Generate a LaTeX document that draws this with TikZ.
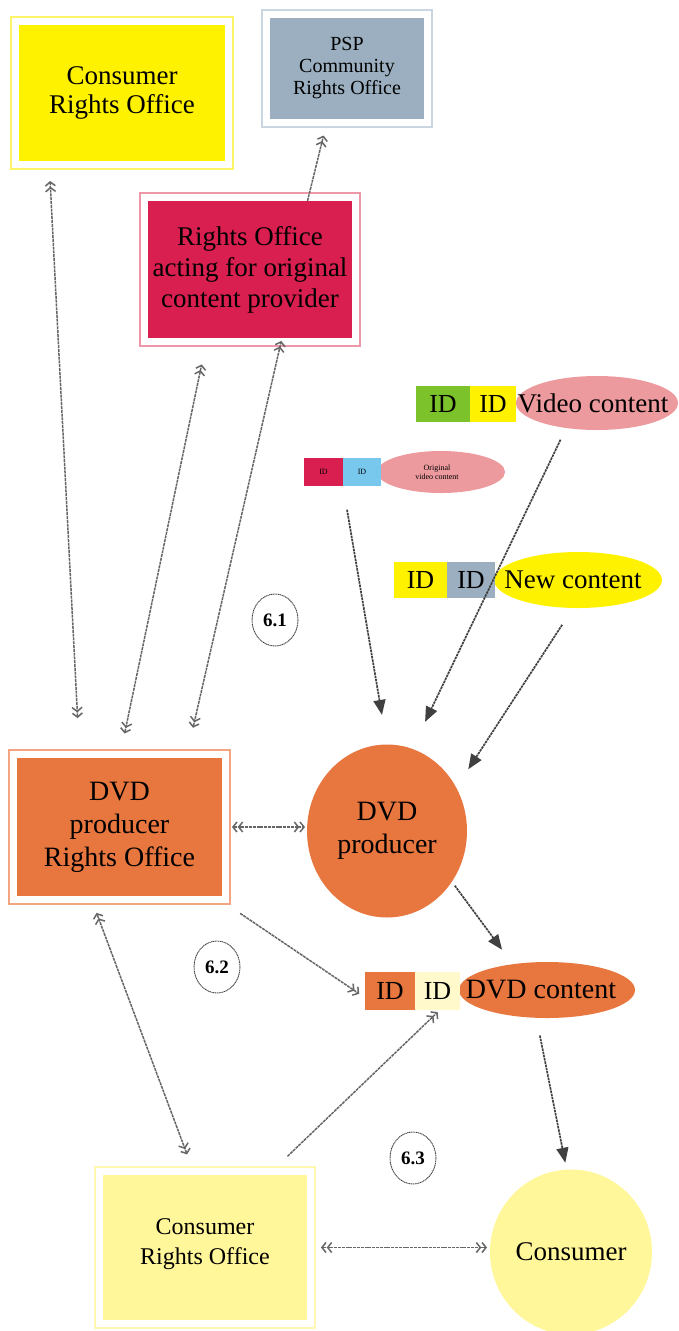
\documentclass[tikz,border=0pt]{standalone}
\usepackage{fontspec}
\setmainfont{Liberation Serif}
\usetikzlibrary{arrows.meta,shapes.geometric}

\definecolor{cyel}{HTML}{FFF200}
\definecolor{cyeledge}{HTML}{FFF466}
\definecolor{cpsp}{HTML}{9BAFC0}
\definecolor{cpspedge}{HTML}{C9D6E2}
\definecolor{ccrim}{HTML}{D91F4F}
\definecolor{ccrimedge}{HTML}{EE97A8}
\definecolor{corg}{HTML}{E8773F}
\definecolor{corgedge}{HTML}{F3A582}
\definecolor{cpale}{HTML}{FFF799}
\definecolor{cpaleedge}{HTML}{FFF8B0}
\definecolor{cgreen}{HTML}{7CC22A}
\definecolor{cpink}{HTML}{EC9A9E}
\definecolor{cblue}{HTML}{78C8EE}
\definecolor{ccream}{HTML}{FFF9CC}

\begin{document}
\begin{tikzpicture}[x=1pt, y=-1pt,
  robox/.style 2 args={rectangle, fill=#1, preaction={draw=#2, line width=18pt},
    preaction={draw=white, line width=14pt}, align=center, inner sep=0pt, outer sep=0pt},
  blob/.style={ellipse, fill=#1, inner sep=0pt, outer sep=0pt, align=center},
  idbox/.style={rectangle, fill=#1, minimum height=36, inner sep=0pt, outer sep=0pt,
    font=\fontsize{26}{30}\selectfont},
  stepmark/.style={ellipse, draw=black!75, line width=0.9pt, dash pattern=on 1.2pt off 0.6pt,
    minimum width=46, minimum height=52, inner sep=0pt, font=\bfseries\fontsize{19}{20}\selectfont},
  link/.style={draw=black!60, line width=1.5pt, dash pattern=on 3pt off 0.8pt},
  twoway/.style={link, {Straight Barb[length=4pt,width=10pt] Straight Barb[length=4pt,width=10pt]}-{Straight Barb[length=4pt,width=10pt] Straight Barb[length=4pt,width=10pt]}},
  oneway/.style={link, -{Straight Barb[length=4pt,width=10pt] Straight Barb[length=4pt,width=10pt]}},
  feed/.style={draw=black!75, line width=1.7pt, dash pattern=on 2.5pt off 0.8pt,
    -{Triangle[length=15pt,width=12pt]}}]
  %--- font sizes
  \def\fa{\fontsize{27}{29}\selectfont}
  \def\fb{\fontsize{27}{31}\selectfont}
  \def\fc{\fontsize{28}{33}\selectfont}
  \def\fd{\fontsize{24}{30}\selectfont}
  \def\fe{\fontsize{27}{30}\selectfont}
  \def\fpsp{\fontsize{20}{22}\selectfont}
  \def\fs{\fontsize{8}{9}\selectfont}

  \useasboundingbox (0,0) rectangle (678,1331);

  %--- rights offices
  \node[robox={cyel}{cyeledge}, minimum width=206, minimum height=136, font=\fa] (croTop) at (122,93) {Consumer\\Rights Office};
  \node[robox={cpsp}{cpspedge}, minimum width=154, minimum height=101, font=\fpsp] (psp) at (347,68.5) {PSP\\Community\\Rights Office};
  \node[robox={ccrim}{ccrimedge}, minimum width=204, minimum height=137, font=\fb] (roAct) at (250,269.5) {Rights Office\\acting for original\\content provider};
  \node[robox={corg}{corgedge}, minimum width=205, minimum height=138, font=\fc] (dvdRO) at (119.5,827) {DVD\\producer\\Rights Office};
  \node[robox={cpale}{cpaleedge}, minimum width=204, minimum height=145, font=\fd] (croBot) at (205,1247.5) {Consumer\\Rights Office\\[-18pt]};

  %--- actors
  \node[blob=corg, minimum width=160, minimum height=173, font=\fc] (dvdProd) at (387,831) {DVD\\producer};
  \node[blob=cpale, minimum width=162, minimum height=165, font=\fe] (consumer) at (571,1252) {Consumer};

  %--- content items: ellipse first, then the ID tags
  \node[blob=cpink, minimum width=162, minimum height=54, label={[font=\fe, xshift=-4pt]center:Video content}] (videoC) at (597,403) {};
  \node[idbox=cgreen, minimum width=54] (idVa) at (443,404) {ID};
  \node[idbox=cyel, minimum width=46] (idVb) at (493,404) {ID};

  \node[blob=cpink, minimum width=128, minimum height=42, label={[font=\fs, align=center, xshift=-4pt]center:Original\\video content}] (origC) at (441,472) {};
  \node[idbox=ccrim, minimum width=39, minimum height=28, font=\fs] (idOa) at (323.5,472) {ID};
  \node[idbox=cblue, minimum width=38, minimum height=28, font=\fs] (idOb) at (362,472) {ID};

  \node[blob=cyel, minimum width=168, minimum height=56, label={[font=\fe, xshift=-5pt]center:New content}] (newC) at (578,580) {};
  \node[idbox=cyel, minimum width=53] (idNa) at (420.5,580) {ID};
  \node[idbox=cpsp, minimum width=48] (idNb) at (471,580) {ID};

  \node[blob=corg, minimum width=176, minimum height=56, label={[font=\fc, xshift=-6pt]center:DVD content}] (dvdC) at (547,990) {};
  \node[idbox=corg, minimum width=50, minimum height=38] (idDa) at (390,991) {ID};
  \node[idbox=ccream, minimum width=45, minimum height=38] (idDb) at (437.5,991) {ID};

  %--- steps
  \node[stepmark] (s1) at (275,620) {6.1};
  \node[stepmark] (s2) at (217,967) {6.2};
  \node[stepmark] (s3) at (413,1158) {6.3};

  %--- rights links
  \draw[twoway, shorten <=40, shorten >=20] (dvdRO.120) -- (croTop.223);
  \draw[twoway, shorten <=25, shorten >=27] (dvdRO.90) -- (roAct.238);
  \draw[twoway, shorten <=31, shorten >=3] (dvdRO.46) -- (roAct.295);
  \draw[oneway, shorten >=17] (roAct.50) -- (psp.249);
  \draw[twoway, shorten <=10, shorten >=2] (dvdRO.east) -- (dvdRO.east -| dvdProd.west);
  \draw[oneway, shorten <=31, shorten >=7] (dvdRO.324) -- (idDa.195);
  \draw[twoway, shorten <=22, shorten >=18] (croBot.98) -- (dvdRO.247);
  \draw[oneway, shorten <=27, shorten >=3] (croBot.49) -- (idDb.277);
  \draw[twoway, shorten <=14, shorten >=3] (croBot.east) -- (croBot.east -| consumer.west);

  %--- content flow
  \draw[feed, shorten <=24, shorten >=30] (idOa.south east) -- (dvdProd.north);
  \draw[feed, shorten <=13, shorten >=30] (videoC.219) -- (dvdProd.73);
  \draw[feed, shorten <=20, shorten >=22] (newC.260) -- (dvdProd.32);
  \draw[feed, shorten <=5, shorten >=18] (dvdProd.322) -- (dvdC.143);
  \draw[feed, shorten <=18, shorten >=7] (dvdC.249) -- (consumer.93);
\end{tikzpicture}
\end{document}
